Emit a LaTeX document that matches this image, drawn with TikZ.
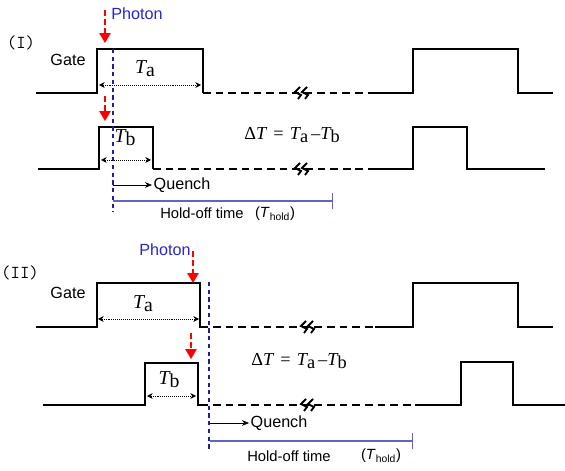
\documentclass[tikz,border=0pt]{standalone}
\usepackage{fontspec}
\setsansfont{Liberation Sans}
\newfontfamily\timesfont{Liberation Serif}
\usetikzlibrary{arrows.meta}
\definecolor{photonblue}{RGB}{40,40,200}
\definecolor{lineblue}{RGB}{30,30,160}
\definecolor{holdblue}{RGB}{100,100,200}
\newcommand\Tsub[1]{{\itshape T}\raisebox{-0.3ex}{#1}}

\begin{document}
\begin{tikzpicture}[x=0.025cm, y=-0.025cm]
		\tikzstyle{wave}=[line width=1.6pt, line join=miter]
		\tikzstyle{dwave}=[wave, dash pattern=on 5.5pt off 3.5pt]
		\tikzstyle{photon}=[red, line width=1.1pt, dash pattern=on 4pt off 2.5pt, -{Triangle[length=7pt,width=8pt]}]
		\tikzstyle{detect}=[lineblue, line width=1.1pt, dash pattern=on 3pt off 2.5pt]
		\tikzstyle{width}=[densely dotted, thin, {Stealth[length=4pt,width=4pt]}-{Stealth[length=4pt,width=4pt]}]
		\tikzstyle{lbl}=[font=\sffamily\fontsize{11.5}{13}\selectfont, inner sep=1pt]
		\tikzstyle{sym}=[font=\timesfont\fontsize{14}{16}\selectfont, inner sep=1pt]
		\tikzstyle{eqn}=[font=\timesfont\fontsize{13}{15}\selectfont, inner sep=1pt]
		\tikzstyle{hold}=[holdblue, line width=0.9pt, -{Bar[width=11pt]}]
		\tikzstyle{panel}=[font=\ttfamily\fontsize{13}{15}\selectfont, inner sep=1pt]
		\useasboundingbox (0,0) rectangle (565,471);
		
		% (I)
		\node[panel](lab-1) at (21,43) {(I)};
		\node[lbl, photonblue](photon-1) at (137,14) {Photon};
		\node[lbl](gate-1) at (68,60) {Gate};
		\draw[wave] (36,93) -- (97,93) -- (97,49) -- (203,49) -- (203,93);
		\draw[dwave] (203,93) -- (372,93);
		\draw[wave] (372,93) -- (413,93) -- (413,49) -- (518,49) -- (518,93) -- (553,93);
		\draw[wave] (38,169) -- (99,169) -- (99,127) -- (153,127) -- (153,169);
		\draw[dwave] (153,169) -- (372,169);
		\draw[wave] (372,169) -- (413,169) -- (413,127) -- (467,127) -- (467,169) -- (545,169);
		\coordinate (ph-1a) at (105,10);  \coordinate (ph-1b) at (105,43);
		\coordinate (ph-1c) at (105,96);  \coordinate (ph-1d) at (105,121);
		\draw[photon] (ph-1a) -- (ph-1b);
		\draw[photon] (ph-1c) -- (ph-1d);
		\coordinate (det-1t) at (113,49); \coordinate (det-1b) at (113,212);
		\draw[detect] (det-1t) -- (det-1b);
		\coordinate (ta-1l) at (99,85);  \coordinate (ta-1r) at (201,85);
		\coordinate (tb-1l) at (101,160); \coordinate (tb-1r) at (151,160);
		\draw[width] (ta-1l) -- (ta-1r);
		\draw[width] (tb-1l) -- (tb-1r);
		\node[sym](ta-1) at (145,69) {\Tsub{a}};
		\node[sym](tb-1) at (125,138) {\Tsub{b}};
		\node[eqn](dt-1) at (292,135) {Δ\textit{T}\,\,=\,\,\Tsub{a}\,–\Tsub{b}};
		\coordinate (q-1) at (113,185);
		\node[lbl, anchor=west](quench-1) at (152,185) {Quench};
		\draw[-{Stealth[length=5pt,width=4pt]}, thin] (q-1) -- (quench-1.west);
		\coordinate (h-1a) at (113,201); \coordinate (h-1b) at (333,201);
		\draw[hold] (h-1a) -- (h-1b);
		\node[lbl, font=\sffamily\fontsize{10.5}{12}\selectfont](hold-1) at (202,213) {Hold-off time};
		\node[lbl, font=\sffamily\fontsize{10.5}{12}\selectfont](thold-1) at (275,214) {(\textit{T}\textsubscript{hold})};
		
		% (II)
		\node[panel](lab-2) at (20,273) {(II)};
		\node[lbl, photonblue](photon-2) at (165,250) {Photon};
		\node[lbl](gate-2) at (68,293) {Gate};
		\draw[wave] (36,327) -- (97,327) -- (97,283) -- (200,283) -- (200,327) -- (208,327);
		\draw[dwave] (213,327) -- (375,327);
		\draw[wave] (375,327) -- (413,327) -- (413,283) -- (518,283) -- (518,327) -- (553,327);
		\draw[wave] (43,405) -- (145,405) -- (145,363) -- (198,363) -- (198,405) -- (208,405);
		\draw[dwave] (213,405) -- (418,405);
		\draw[wave] (418,405) -- (461,405) -- (461,362) -- (513,362) -- (513,405) -- (565,405);
		\coordinate (ph-2a) at (193,251); \coordinate (ph-2b) at (193,283);
		\coordinate (ph-2c) at (191,333); \coordinate (ph-2d) at (191,359);
		\draw[photon] (ph-2a) -- (ph-2b);
		\draw[photon] (ph-2c) -- (ph-2d);
		\coordinate (det-2t) at (209,282); \coordinate (det-2b) at (209,452);
		\draw[detect] (det-2t) -- (det-2b);
		\coordinate (ta-2l) at (98,319);  \coordinate (ta-2r) at (199,319);
		\coordinate (tb-2l) at (147,396); \coordinate (tb-2r) at (196,396);
		\draw[width] (ta-2l) -- (ta-2r);
		\draw[width] (tb-2l) -- (tb-2r);
		\node[sym](ta-2) at (143,304) {\Tsub{a}};
		\node[sym](tb-2) at (169,380) {\Tsub{b}};
		\node[eqn](dt-2) at (299,361) {Δ\textit{T}\,\,=\,\,\Tsub{a}\,–\Tsub{b}};
		\coordinate (q-2) at (210,423);
		\node[lbl, anchor=west](quench-2) at (249,423) {Quench};
		\draw[-{Stealth[length=5pt,width=4pt]}, thin] (q-2) -- (quench-2.west);
		\coordinate (h-2a) at (210,441); \coordinate (h-2b) at (413,441);
		\draw[hold] (h-2a) -- (h-2b);
		\node[lbl, font=\sffamily\fontsize{10.5}{12}\selectfont](hold-2) at (289,456) {Hold-off time};
		\node[lbl, font=\sffamily\fontsize{10.5}{12}\selectfont](thold-2) at (381,456) {(\textit{T}\textsubscript{hold})};
		
		% breaks
		\foreach \x/\y in {302/93, 302/169, 308/327, 308/405}
		\foreach \o in {-4,3}
		\draw[line width=1.3pt] ({\x+\o+2},{\y-6}) -- ({\x+\o-3},{\y-1}) -- ({\x+\o+3},{\y+2}) -- ({\x+\o},{\y+6});
\end{tikzpicture}
\end{document}
